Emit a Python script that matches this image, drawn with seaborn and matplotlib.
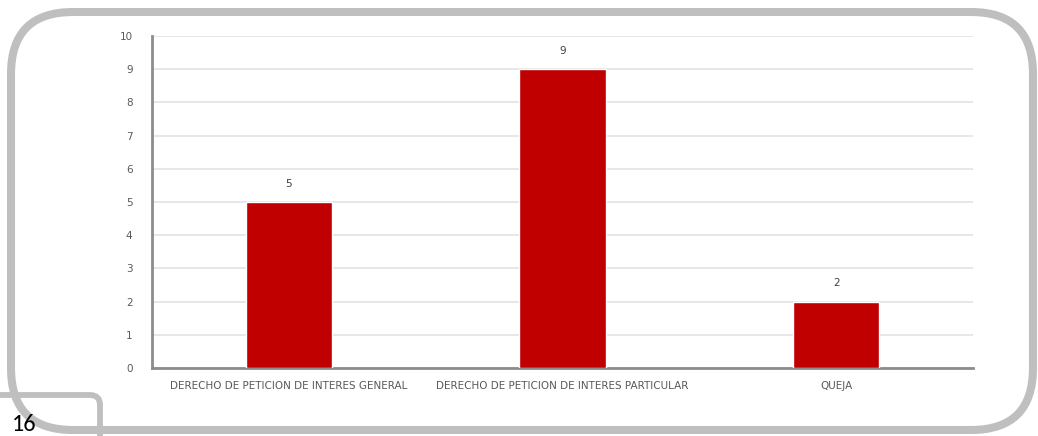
import numpy as np
import pandas as pd
import seaborn as sns
import matplotlib.pyplot as plt
from matplotlib.patches import FancyBboxPatch
from matplotlib.transforms import IdentityTransform

categorias = ['DERECHO DE PETICION DE INTERES GENERAL',
              'DERECHO DE PETICION DE INTERES PARTICULAR',
              'QUEJA']
cantidades = [5, 9, 2]
yticks = list(range(0, 11))
pagina = '16'

df = pd.DataFrame({'tipo': categorias, 'cantidad': cantidades})

sns.set_style('white')
plt.rcParams['font.family'] = ['Liberation Sans Narrow', 'DejaVu Sans']

W, H = 1038, 436
fig = plt.figure(figsize=(W / 100, H / 100), dpi=100)
ax = fig.add_axes([152 / W, 1 - 368 / H, 821 / W, 332 / H])

sns.barplot(data=df, x='tipo', y='cantidad', color='#c00000', width=0.315,
            saturation=1, ax=ax, zorder=3)

ax.set_ylim(0, 10)
ax.set_yticks(yticks)
ax.set_xlim(-0.5, len(categorias) - 0.5)
ax.yaxis.grid(True, color='#e3e3e3', lw=1.2, zorder=0)
ax.set_xlabel('')
ax.set_ylabel('')
for s in ['top', 'right']:
    ax.spines[s].set_visible(False)
for s in ['left', 'bottom']:
    ax.spines[s].set_color('#8c8c8c')
    ax.spines[s].set_linewidth(2)
ax.tick_params(axis='both', length=0, colors='#595959', labelsize=7.5)
ax.tick_params(axis='x', pad=9)
ax.tick_params(axis='y', pad=14)

for i, v in enumerate(cantidades):
    ax.text(i, v + 0.4, str(v), ha='center', va='bottom', fontsize=7.5,
            color='#404040')

# marco redondeado de la pagina (coordenadas en pixeles, origen abajo)
px = IdentityTransform()
marco = FancyBboxPatch((11, H - 430), 1022, 418,
                       boxstyle='round,pad=0,rounding_size=62',
                       transform=px, fill=False, ec='#bfbfbf', lw=5.8)
fig.patches.append(marco)

caja = FancyBboxPatch((-30, -30), 130, H - 395 + 30,
                      boxstyle='round,pad=0,rounding_size=10',
                      transform=px, fill=False, ec='#bfbfbf', lw=4.2)
fig.patches.append(caja)
fig.text(12 / W, 1 - 431 / H, pagina, fontsize=17.5, color='black',
         family=['Carlito', 'Liberation Sans', 'DejaVu Sans'])

fig.savefig('out.png', dpi=100)
